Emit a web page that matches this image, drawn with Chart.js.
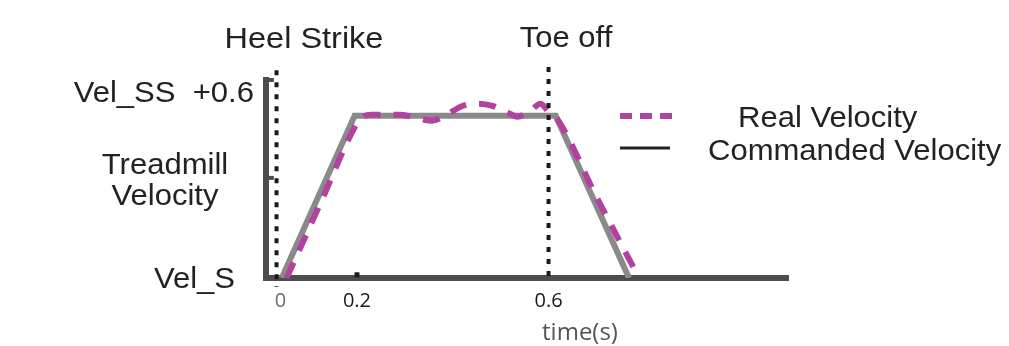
<!DOCTYPE html>
<html>
<head>
<meta charset="utf-8">
<script src="https://cdn.jsdelivr.net/npm/chart.js@4/dist/chart.umd.min.js"></script>
<style>
  html, body { margin: 0; padding: 0; background: #fff; }
  #wrap { width: 1009px; height: 346px; }
</style>
</head>
<body>
<div id="wrap"><canvas id="gaitChart" width="1009" height="346"></canvas></div>
<script>
// time (s) / normalised velocity (0 = Vel_S, 1 = Vel_SS)
const commandedT = [0.043, 0.195, 0.615, 0.768];
const commandedV = [0, 1, 1, 0];

const realT = [0.053, 0.125, 0.198, 0.21, 0.231, 0.29, 0.332, 0.357, 0.384, 0.42, 0.453, 0.483, 0.514, 0.535, 0.562, 0.583, 0.6, 0.619, 0.70, 0.789];
const realV = [0, 0.47, 0.944, 0.99, 1.006, 1.006, 0.98, 0.969, 1.0, 1.06, 1.074, 1.06, 1.02, 0.994, 1.03, 1.074, 1.025, 0.975, 0.5, 0];

// event markers
const heelStrikeT = 0.032;
const heelStrikeV = [1.28, -0.055];
const toeOffT = 0.6;
const toeOffV = [1.30, -0.03];

// axis ticks
const xTickValues = [0.04, 0.2, 0.6];
const xTickLabels = ['0', '0.2', '0.6'];
const yAxisTicks = [1.22, 0.617];

const pts = (xs, ys) => xs.map((x, i) => ({ x, y: ys[i] }));

const MAGENTA = '#b3419f';
const GREY = '#8a8a8a';
const AXIS = '#4d4d4d';
const INK = '#222222';

const annotations = {
    id: 'annotations',
    afterDraw(chart) {
        const { ctx, chartArea: a } = chart;
        const stretch = 1.07;
        const text = (str, x, y, align, font, color, sx) => {
            ctx.save();
            ctx.font = font;
            ctx.fillStyle = color;
            ctx.textBaseline = 'alphabetic';
            ctx.textAlign = align;
            ctx.translate(x, y);
            ctx.scale(sx || 1, 1);
            ctx.fillText(str, 0, 0);
            ctx.restore();
        };
        const big = '29px "Liberation Sans", Arial, sans-serif';

        // event labels
        text('Heel Strike', 304, 48, 'center', big, INK, 1.12);
        text('Toe off', 566, 47, 'center', big, INK, stretch);

        // y axis labels
        text('Vel_SS  +0.6', a.left - 12, 102, 'right', big, INK, stretch);
        text('Treadmill', 165, 174, 'center', big, INK, stretch);
        text('Velocity', 165, 205, 'center', big, INK, stretch);
        text('Vel_S', a.left - 31, 288, 'right', big, INK, stretch);

        // x axis title
        text('time(s)', 580, 340, 'center', '24px "Open Sans", sans-serif', '#555555', 1);

        // legend
        ctx.save();
        ctx.lineWidth = 6;
        ctx.strokeStyle = MAGENTA;
        ctx.setLineDash([12, 8]);
        ctx.beginPath();
        ctx.moveTo(620, 116);
        ctx.lineTo(673, 116);
        ctx.stroke();
        ctx.setLineDash([]);
        ctx.lineWidth = 3;
        ctx.strokeStyle = INK;
        ctx.beginPath();
        ctx.moveTo(620, 148);
        ctx.lineTo(670, 148);
        ctx.stroke();
        ctx.restore();
        text('Real Velocity', 738, 127, 'left', big, INK, stretch);
        text('Commanded Velocity', 708, 160, 'left', big, INK, stretch);
    }
};

new Chart(document.getElementById('gaitChart'), {
    type: 'line',
    data: {
        datasets: [
            {
                label: 'Heel Strike', data: pts([heelStrikeT, heelStrikeT], heelStrikeV),
                borderColor: '#1a1a1a', borderWidth: 4, borderDash: [5, 7], pointRadius: 0, clip: false, order: 0
            },
            {
                label: 'Toe off', data: pts([toeOffT, toeOffT], toeOffV),
                borderColor: '#1a1a1a', borderWidth: 4, borderDash: [5, 7], pointRadius: 0, clip: false, order: 0
            },
            {
                label: 'Real Velocity', data: pts(realT, realV),
                borderColor: MAGENTA, borderWidth: 6, borderDash: [17, 13], pointRadius: 0,
                cubicInterpolationMode: 'monotone', clip: false, order: 1
            },
            {
                label: 'Commanded Velocity', data: pts(commandedT, commandedV),
                borderColor: GREY, borderWidth: 6, pointRadius: 0, order: 2
            },
            {
                label: 'y ticks', data: pts([0.017, 0.017], yAxisTicks),
                showLine: false, pointStyle: 'line', pointRadius: 4.5, borderWidth: 4,
                borderColor: AXIS, clip: false, order: 3
            },
            {
                label: 'x tick', data: pts([0.2], [0.02]),
                showLine: false, pointStyle: 'rect', pointRadius: 3.5,
                backgroundColor: '#1a1a1a', borderColor: '#1a1a1a', borderWidth: 0, clip: false, order: 3
            }
        ]
    },
    options: {
        responsive: false,
        animation: false,
        layout: { padding: { left: 266, right: 221, top: 80, bottom: 38 } },
        plugins: { legend: { display: false }, tooltip: { enabled: false } },
        scales: {
            x: {
                type: 'linear', min: 0.01, max: 1.1,
                border: { color: AXIS, width: 6 },
                grid: { drawOnChartArea: false, drawTicks: false },
                afterBuildTicks: s => { s.ticks = xTickValues.map(v => ({ value: v })); },
                afterFit: s => { s.height = 30; },
                ticks: {
                    autoSkip: false, maxRotation: 0, padding: 11,
                    font: { family: 'Open Sans', size: 20 },
                    color: c => c.index === 0 ? '#6d6d6d' : '#1a1a1a',
                    callback: (v, i) => xTickLabels[i]
                }
            },
            y: {
                type: 'linear', min: 0, max: 1.22,
                border: { color: AXIS, width: 6 },
                grid: { drawOnChartArea: false, drawTicks: false },
                ticks: { display: false },
                afterFit: s => { s.width = 0; }
            }
        }
    },
    plugins: [annotations]
});
</script>
</body>
</html>
